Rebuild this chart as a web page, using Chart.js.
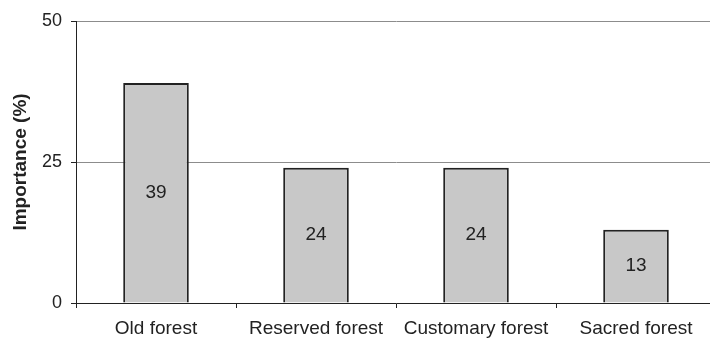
<!DOCTYPE html>
<html>
<head>
<meta charset="utf-8">
<script src="https://cdn.jsdelivr.net/npm/chart.js@4"></script>
<style>
  html, body { margin: 0; padding: 0; background: #fff; overflow: hidden; }
  #wrap { width: 716px; height: 338px; }
</style>
</head>
<body>
<div id="wrap"><canvas id="chart"></canvas></div>
<script>
// Forest types and their importance (%)
const categories = ["Old forest", "Reserved forest", "Customary forest", "Sacred forest"];
const importance = [39, 24, 24, 13];
const yTicks = [0, 25, 50];

const ink = "#222222";
const family = "'Liberation Sans', Arial, sans-serif";

// Writes each bar's value in the middle of the bar
const barValues = {
  id: "barValues",
  afterDatasetsDraw(chart) {
    const ctx = chart.ctx;
    const meta = chart.getDatasetMeta(0);
    ctx.save();
    ctx.font = "19px " + family;
    ctx.fillStyle = ink;
    ctx.textAlign = "center";
    ctx.textBaseline = "middle";
    meta.data.forEach((bar, i) => {
      const v = chart.data.datasets[0].data[i];
      ctx.fillText(String(v), bar.x, (bar.y + bar.base) / 2);
    });
    ctx.restore();
  },
};

new Chart(document.getElementById("chart"), {
  type: "bar",
  data: {
    labels: categories,
    datasets: [
      {
        label: "Importance",
        data: importance,
        backgroundColor: "#c8c8c8",
        borderColor: ink,
        borderWidth: 2,
        barPercentage: 0.41,
        categoryPercentage: 1,
      },
    ],
  },
  options: {
    responsive: true,
    maintainAspectRatio: false,
    animation: false,
    layout: { padding: { top: 21, right: 0, bottom: 0, left: 0 } },
    plugins: {
      legend: { display: false },
      tooltip: { enabled: false },
    },
    scales: {
      x: {
        offset: true,
        grid: {
          offset: true,
          drawOnChartArea: false,
          tickColor: ink,
          tickLength: 5,
        },
        border: { color: ink, width: 1 },
        ticks: {
          color: ink,
          padding: 9,
          font: { family, size: 19 },
        },
        afterFit(scale) {
          scale.height = 35;
        },
      },
      y: {
        min: 0,
        max: 50,
        afterBuildTicks(scale) {
          scale.ticks = yTicks.map((v) => ({ value: v }));
        },
        grid: {
          color: "#8c8c8c",
          tickColor: ink,
          tickLength: 5,
        },
        border: { color: ink, width: 1 },
        ticks: {
          color: ink,
          padding: 9,
          font: { family, size: 18 },
        },
        title: {
          display: true,
          text: "Importance (%)",
          color: ink,
          padding: { top: 9, bottom: 0 },
          font: { family, size: 19, weight: "bold" },
        },
        afterFit(scale) {
          scale.width = 76;
        },
      },
    },
  },
  plugins: [barValues],
});
</script>
</body>
</html>
